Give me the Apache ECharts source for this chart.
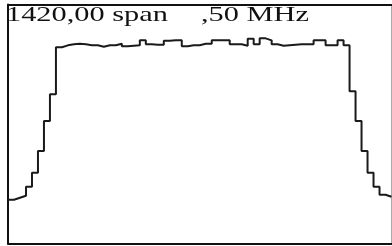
<!DOCTYPE html>
<html>
<head>
<meta charset="utf-8">
<script src="https://cdn.jsdelivr.net/npm/echarts@6/dist/echarts.min.js"></script>
<style>
  html, body { margin: 0; padding: 0; background: #fff; }
  #chart { width: 392px; height: 246px; }
</style>
</head>
<body>
<div id="chart"></div>
<script>
// header texts
let centreLabel = '1420,00 span';
let spanLabel   = ',50 MHz';

// level per frequency bin (64 bins across the span)
let levels = [
    44, 46, 48, 57, 71, 93, 123, 150,
    197, 199, 200, 200.5, 200, 199, 199, 197.5,
    199, 199, 200.5, 198, 198.5, 199, 204, 200,
    199.5, 199.5, 203.5, 204, 204, 198, 199, 199,
    200.5, 200.5, 204, 204, 204, 200, 200, 198.5,
    205.5, 200, 206, 204, 200, 198.5, 199, 199.5,
    200, 200, 200, 204, 204, 199, 199, 204,
    199, 153, 123, 93, 71, 57, 49, 47
];

function getPoints(data){
    let points = [];
    for(let i = 0; i < data.length; i++){
        points.push([i, data[i]]);
    }
    // close the last bin
    points.push([data.length, data[data.length - 1]]);
    return points;
}

function frameAxis(position, color, width){
    return {
        type: 'value',
        position: position,
        min: 0, max: position == 'top' || position == 'bottom' ? levels.length : 240,
        axisLine: {show: true, onZero: false, lineStyle: {color: color, width: width}},
        axisTick: {show: false},
        axisLabel: {show: false},
        splitLine: {show: false}
    };
}

let chart = echarts.init(document.getElementById('chart'), null, {renderer: 'canvas'});

let option = {
    animation: false,
    backgroundColor: '#fff',
    grid: {left: 8, right: 0.5, top: 4.5, bottom: 2.5},
    xAxis: [frameAxis('bottom', '#111', 2), frameAxis('top', '#111', 2)],
    yAxis: [frameAxis('left', '#111', 2), frameAxis('right', '#aaa', 1)],
    graphic: [
        {
            type: 'text', x: 6, y: 4.5, scaleX: 1.38, z: 10,
            style: {text: centreLabel, font: '22px "Liberation Serif"', fill: '#111'}
        },
        {
            type: 'text', x: 201, y: 4.5, scaleX: 1.38, z: 10,
            style: {text: spanLabel, font: '22px "Liberation Serif"', fill: '#111'}
        }
    ],
    series: [{
        type: 'line',
        step: 'end',
        data: getPoints(levels),
        showSymbol: false,
        lineStyle: {color: '#1a1a1a', width: 2},
        clip: true
    }]
};

chart.setOption(option);
</script>
</body>
</html>
